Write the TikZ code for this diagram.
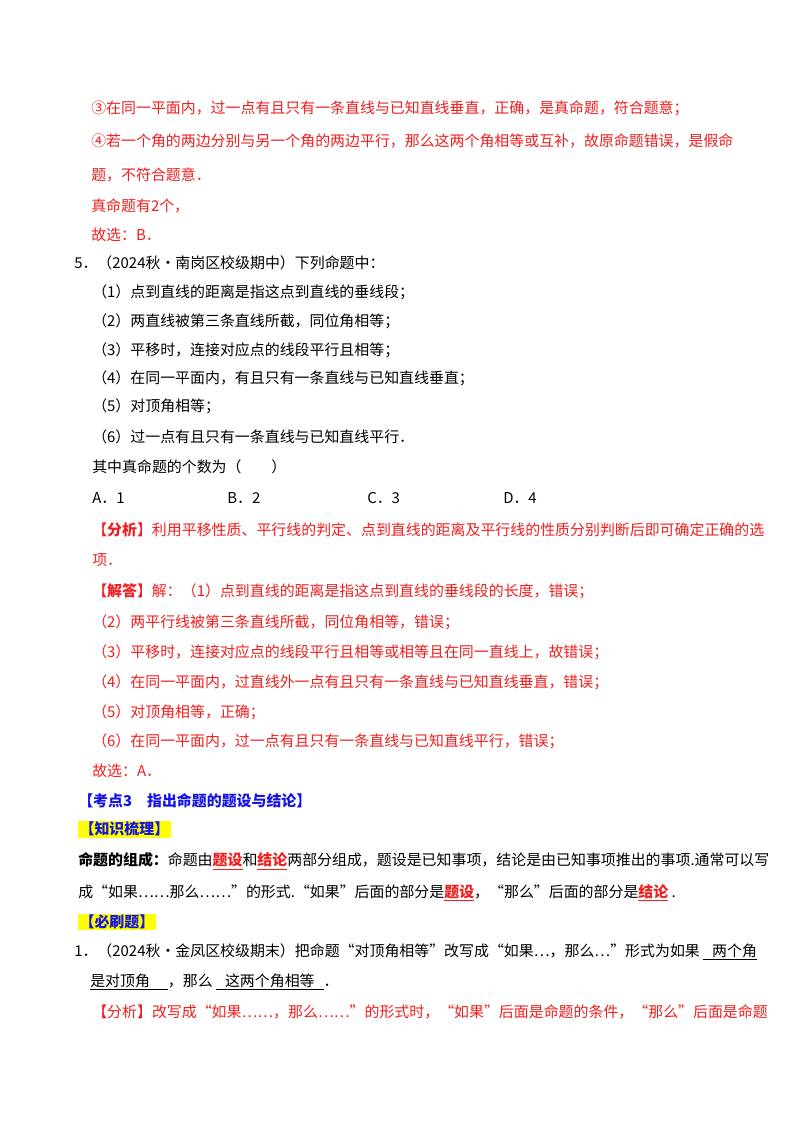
\documentclass[tikz,border=0pt]{standalone}
\usepackage{fontspec}
\setmainfont{Noto Sans CJK SC}
\usepackage{tikz}
\usetikzlibrary{positioning}
\definecolor{ansred}{RGB}{240,30,30}
\definecolor{headblue}{RGB}{20,20,230}
\definecolor{hilite}{RGB}{255,255,0}
\tikzset{
  line/.style={anchor=west,inner sep=0pt,font=\fontsize{11.2}{13}\selectfont},
  redline/.style={line,text=ansred},
  tag/.style={line,fill=hilite,text=headblue,inner sep=1pt,font=\fontsize{11.2}{13}\selectfont\bfseries}
}
\newcommand{\key}[1]{\textcolor{ansred}{\textbf{\underline{#1}}}}
\newcommand{\blank}[1]{\underline{\hspace{0.6em}#1\hspace{0.6em}}}
\begin{document}
\begin{tikzpicture}[x=0.75pt,y=-0.75pt]
\useasboundingbox (0,0) rectangle (800,1132);
\node[redline] (r3) at (91,108) {③在同一平面内，过一点有且只有一条直线与已知直线垂直，正确，是真命题，符合题意；};
\node[redline] (r4) at (91,141) {④若一个角的两边分别与另一个角的两边平行，那么这两个角相等或互补，故原命题错误，是假命};
\node[redline] (r4b) at (91,175) {题，不符合题意．};
\node[redline] (cnt) at (91,206) {真命题有2个，};
\node[redline] (sel1) at (91,235) {故选：\textit{B}．};
\node[line] (q5) at (74,263) {5．（2024秋•南岗区校级期中）下列命题中：};
\node[line] (s1) at (92,292) {（1）点到直线的距离是指这点到直线的垂线段；};
\node[line] (s2) at (92,321) {（2）两直线被第三条直线所截，同位角相等；};
\node[line] (s3) at (92,350) {（3）平移时，连接对应点的线段平行且相等；};
\node[line] (s4) at (92,378) {（4）在同一平面内，有且只有一条直线与已知直线垂直；};
\node[line] (s5) at (92,406) {（5）对顶角相等；};
\node[line] (s6) at (92,437) {（6）过一点有且只有一条直线与已知直线平行．};
\node[line] (ask) at (92,467) {其中真命题的个数为（\qquad）};
\node[line] (oa) at (92,498) {A．1};
\node[line] (ob) at (227,498) {B．2};
\node[line] (oc) at (367,498) {C．3};
\node[line] (od) at (503,498) {D．4};
\node[redline] (an1) at (92,530) {【\textbf{分析}】利用平移性质、平行线的判定、点到直线的距离及平行线的性质分别判断后即可确定正确的选};
\node[redline] (an2) at (92,560) {项．};
\node[redline] (so1) at (92,591) {【\textbf{解答}】解：（1）点到直线的距离是指这点到直线的垂线段的长度，错误；};
\node[redline] (so2) at (92,622) {（2）两平行线被第三条直线所截，同位角相等，错误；};
\node[redline] (so3) at (92,652) {（3）平移时，连接对应点的线段平行且相等或相等且在同一直线上，故错误；};
\node[redline] (so4) at (92,682) {（4）在同一平面内，过直线外一点有且只有一条直线与已知直线垂直，错误；};
\node[redline] (so5) at (92,712) {（5）对顶角相等，正确；};
\node[redline] (so6) at (92,741) {（6）在同一平面内，过一点有且只有一条直线与已知直线平行，错误；};
\node[redline] (sel2) at (92,771) {故选：\textit{A}．};
\node[line,text=headblue,font=\fontsize{11.2}{13}\selectfont\bfseries] (kd) at (78,801) {【考点3\quad 指出命题的题设与结论】};
\node[tag] (zs) at (78,829) {【知识梳理】};
\node[line] (k1) at (78,861) {\textbf{命题的组成：}命题由\key{题设}和\key{结论}两部分组成，题设是已知事项，结论是由已知事项推出的事项.通常可以写};
\node[line] (k2) at (78,893) {成“如果……那么……”的形式.“如果”后面的部分是\key{题设}，“那么”后面的部分是\key{结论}\ .};
\node[tag] (bs) at (78,922) {【必刷题】};
\node[line] (p1) at (74,952) {1．（2024秋•金凤区校级期末）把命题“对顶角相等”改写成“如果…，那么…”形式为如果\ \underline{\hspace{0.6em}两个角}};
\node[line] (p1b) at (90,982) {\underline{是对顶角\hspace{1.2em}}，那么\ \blank{这两个角相等}．};
\node[redline] (an3) at (92,1012) {【分析】改写成“如果……，那么……”的形式时，“如果”后面是命题的条件，“那么”后面是命题};
\end{tikzpicture}
\end{document}
